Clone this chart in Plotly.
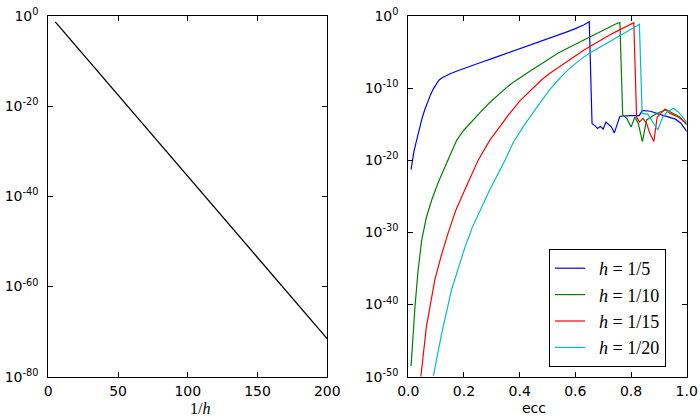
import plotly.graph_objects as go

# ---------------- data ----------------
# left panel: error vs 1/h  (log10 of error)
inv_h = [5, 10, 15, 20, 25, 30, 35, 40, 45, 50, 55, 60, 65, 70, 75, 80, 85, 90, 95, 100,
         105, 110, 115, 120, 125, 130, 135, 140, 145, 150, 155, 160, 165, 170, 175, 180,
         185, 190, 195, 200]
err_exp = [-1.3, -3.1, -4.9, -6.8, -8.6, -10.3, -12.1, -13.9, -15.8, -17.5, -19.3, -21.2,
           -22.9, -24.8, -26.6, -28.4, -30.1, -31.9, -33.8, -35.6, -37.3, -39.2, -40.9,
           -42.8, -44.6, -46.3, -48.1, -49.9, -51.8, -53.5, -55.4, -57.1, -58.9, -60.8,
           -62.5, -64.3, -66.2, -67.9, -69.8, -71.6]

# right panel: error vs eccentricity (log10 of error)
ecc_h5 = [0.01, 0.02, 0.03, 0.04, 0.05, 0.06, 0.07, 0.08, 0.09, 0.10, 0.11, 0.12, 0.135,
          0.15, 0.18, 0.21, 0.24, 0.27, 0.30, 0.33, 0.36, 0.39, 0.42, 0.45, 0.48, 0.51,
          0.54, 0.57, 0.60, 0.63, 0.65,
          0.66, 0.67, 0.68, 0.69, 0.70, 0.71, 0.72, 0.73, 0.74, 0.76, 0.80, 0.83, 0.84,
          0.87, 0.90, 0.93, 0.96, 0.98, 1.00]
exp_h5 = [-21.3, -18.8, -17.2, -15.5, -14.1, -12.9, -11.8, -10.9, -10.1, -9.4, -8.9, -8.6, -8.25,
          -8.0, -7.55, -7.1, -6.7, -6.3, -5.9, -5.5, -5.1, -4.7, -4.3, -3.9, -3.5, -3.1,
          -2.65, -2.2, -1.75, -1.25, -0.8,
          -14.9, -15.2, -15.6, -15.3, -15.7, -14.7, -15.1, -15.4, -16.2, -13.9, -13.8, -13.8, -13.1,
          -13.2, -13.6, -13.9, -14.3, -14.9, -16.0]

ecc_h10 = [0.01, 0.017, 0.024, 0.035, 0.048, 0.065, 0.084, 0.108, 0.132, 0.153, 0.174,
           0.20, 0.23, 0.26, 0.29, 0.32, 0.35, 0.38, 0.41, 0.45, 0.48, 0.51, 0.54, 0.57,
           0.60, 0.63, 0.66, 0.69, 0.72, 0.745, 0.76,
           0.77, 0.785, 0.80, 0.814, 0.826, 0.841, 0.856, 0.88, 0.904, 0.928, 0.952, 0.975, 1.00]
exp_h10 = [-48.5, -44.0, -40.3, -35.3, -31.1, -27.9, -25.5, -23.0, -20.9, -19.0, -17.2,
           -15.8, -14.5, -13.3, -12.1, -11.0, -10.0, -9.1, -8.3, -7.3, -6.6, -5.8, -5.1, -4.5,
           -3.9, -3.3, -2.7, -2.1, -1.55, -1.1, -0.9,
           -13.7, -14.2, -15.4, -14.0, -14.9, -17.4, -14.4, -13.8, -13.3, -13.0, -13.5, -14.0, -15.1]

ecc_h15 = [0.045, 0.065, 0.095, 0.12, 0.143, 0.17, 0.203, 0.23, 0.251, 0.293, 0.33, 0.36,
           0.40, 0.447, 0.48, 0.51, 0.54, 0.57, 0.60, 0.63, 0.66, 0.69, 0.72, 0.75, 0.78, 0.81,
           0.82, 0.83, 0.843, 0.856, 0.868, 0.882, 0.894, 0.91, 0.922, 0.94, 0.97, 1.00]
exp_h15 = [-50.0, -43.1, -36.6, -33.0, -30.1, -27.0, -24.1, -21.8, -20.0, -17.2, -15.2, -13.7,
           -11.8, -10.0, -8.8, -7.9, -7.1, -6.3, -5.5, -4.75, -4.05, -3.35, -2.7, -2.1, -1.5, -0.93,
           -14.0, -14.7, -14.2, -14.9, -16.3, -17.4, -14.0, -13.3, -12.9, -13.5, -14.0, -14.9]

ecc_h20 = [0.09, 0.12, 0.155, 0.18, 0.203, 0.23, 0.263, 0.29, 0.322, 0.35, 0.376, 0.41,
           0.45, 0.48, 0.508, 0.54, 0.57, 0.60, 0.63, 0.66, 0.69, 0.72, 0.75, 0.78, 0.81, 0.83,
           0.84, 0.86, 0.878, 0.896, 0.914, 0.93, 0.952, 0.97, 1.00]
exp_h20 = [-49.9, -44.0, -38.0, -34.8, -32.1, -29.3, -26.5, -24.3, -21.9, -19.8, -17.6, -15.5,
           -13.3, -11.7, -10.2, -8.8, -7.6, -6.6, -5.7, -4.95, -4.25, -3.6, -2.95, -2.3, -1.6, -1.15,
           -13.5, -13.6, -14.7, -15.8, -14.0, -13.3, -12.8, -13.3, -14.7]

series_names = ["<i>h</i> = 1/5", "<i>h</i> = 1/10", "<i>h</i> = 1/15", "<i>h</i> = 1/20"]
series_ecc = [ecc_h5, ecc_h10, ecc_h15, ecc_h20]
series_exp = [exp_h5, exp_h10, exp_h15, exp_h20]
series_colors = ["#0000ff", "#008000", "#ff0000", "#00bfbf"]

left_yticks = [0, -20, -40, -60, -80]
right_yticks = [0, -10, -20, -30, -40, -50]
left_xticks = [0, 50, 100, 150, 200]
right_xticks = [0.0, 0.2, 0.4, 0.6, 0.8, 1.0]

# ---------------- figure ----------------
fig = go.Figure()
fig.add_trace(go.Scatter(x=inv_h, y=[10 ** v for v in err_exp], mode="lines",
                         line=dict(color="black", width=1.3), showlegend=False,
                         xaxis="x", yaxis="y"))
for i, (name, ex, ey, col) in enumerate(zip(series_names, series_ecc, series_exp, series_colors)):
    fig.add_trace(go.Scatter(x=ex, y=[10 ** v for v in ey], mode="lines",
                             name="&nbsp;&nbsp;" + name, legendgroup="g%d" % i,
                             line=dict(color=col, width=1.2), xaxis="x2", yaxis="y2"))

tickfont = dict(family="DejaVu Sans", size=14, color="black")
common = dict(showline=True, linecolor="black", linewidth=1, mirror="ticks",
              ticks="inside", ticklen=5, tickcolor="black", tickwidth=1,
              showgrid=False, zeroline=False, tickfont=tickfont, automargin=False)

def sup_labels(vals):
    return ["10<sup>%d</sup>" % v for v in vals]

fig.update_layout(
    width=700, height=418,
    margin=dict(l=0, r=0, t=0, b=0, autoexpand=False),
    paper_bgcolor="white", plot_bgcolor="white",
    xaxis=dict(domain=[48.3 / 700, 327.3 / 700], range=[0, 200],
               tickvals=left_xticks, anchor="y", ticklabelstandoff=1, **common),
    yaxis=dict(domain=[1 - 376.7 / 418, 1 - 16 / 418], type="log", range=[-80, 0],
               tickvals=[10 ** v for v in left_yticks], ticktext=sup_labels(left_yticks),
               anchor="x", ticklabelstandoff=6, **common),
    xaxis2=dict(domain=[408.3 / 700, 686.7 / 700], range=[0, 1],
                tickvals=right_xticks, tickformat=".1f", anchor="y2",
                ticklabelstandoff=1, **common),
    yaxis2=dict(domain=[1 - 376.7 / 418, 1 - 16 / 418], type="log", range=[-50, 0],
                tickvals=[10 ** v for v in right_yticks], ticktext=sup_labels(right_yticks),
                anchor="x2", ticklabelstandoff=6, **common),
    legend=dict(x=549 / 700, y=1 - 249 / 418, xanchor="left", yanchor="top",
                bordercolor="black", borderwidth=1, bgcolor="white",
                font=dict(family="Liberation Serif", size=18, color="black"),
                tracegroupgap=0),
    annotations=[
        dict(text="1/<i>h</i>", x=(48.3 + 327.3) / 2 / 700, y=1 - 408 / 418,
             xref="paper", yref="paper", showarrow=False, yanchor="middle",
             font=dict(family="Liberation Serif", size=16, color="black")),
        dict(text="ecc", x=(408.3 + 686.7) / 2 / 700, y=1 - 408 / 418,
             xref="paper", yref="paper", showarrow=False, yanchor="middle",
             font=dict(family="DejaVu Sans", size=14, color="black")),
    ],
)

fig.write_html("out.html")
